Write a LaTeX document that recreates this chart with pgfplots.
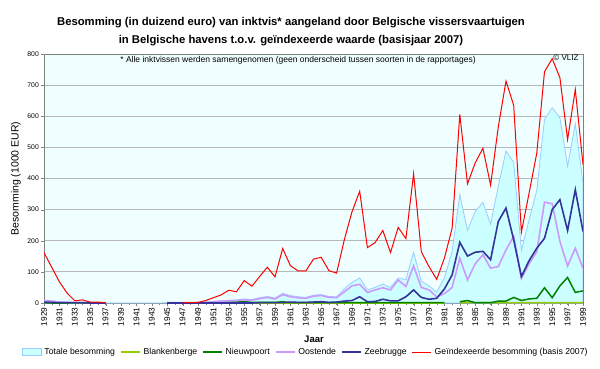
\documentclass[border=0pt]{standalone}
\usepackage{fontspec}
\setmainfont{Liberation Sans}
\usepackage{pgfplots}
\usepackage{pgfplotstable}
\pgfplotsset{compat=1.18}
\definecolor{totfill}{HTML}{CCFFFF}
\definecolor{totedge}{HTML}{99CCFF}
\definecolor{blank}{HTML}{99CC00}
\definecolor{nieuw}{HTML}{008000}
\definecolor{oost}{HTML}{CC99FF}
\definecolor{zee}{HTML}{333399}
\definecolor{red1}{HTML}{FF0000}
\definecolor{bgc}{HTML}{EFFEFE}
\definecolor{gridc}{HTML}{B8B8B8}
\definecolor{axc}{HTML}{808080}

\pgfplotstableread{
year total blank nieuw oost zee red
1929 9 nan 1 8 3 162
1930 7 nan 0 6 2 115
1931 4 nan 0 3 1 68
1932 3 nan 0 2 1 32
1933 2 nan 0 1 1 7
1934 2 nan 0 1 1 10
1935 1 nan 0 1 0 3
1936 1 nan 0 0 0 3
1937 0 nan 0 0 0 1
1938 0 nan nan nan nan nan
1939 0 nan nan nan nan nan
1940 0 nan nan nan nan nan
1941 0 nan nan nan nan nan
1942 0 nan nan nan nan nan
1943 0 nan nan nan nan nan
1944 0 nan nan nan nan nan
1945 1 nan nan 1 0 nan
1946 1 nan nan 1 0 nan
1947 1 nan nan 1 0 1
1948 1 nan nan 1 0 1
1949 1 nan nan 1 0 2
1950 3 0 0 2 0 8
1951 5 0 1 4 0 17
1952 7 0 1 6 0 26
1953 9 0 3 7 0 41
1954 10 0 3 8 0 36
1955 13 0 4 10 0 72
1956 11 0 2 9 0 54
1957 17 0 2 14 1 85
1958 21 0 2 18 1 115
1959 16 0 2 13 1 84
1960 31 0 4 27 1 175
1961 24 0 1 20 3 120
1962 20 0 1 17 2 103
1963 18 0 1 15 2 103
1964 25 0 1 22 3 141
1965 27 0 1 24 4 147
1966 21 0 1 18 2 104
1967 20 0 1 17 3 96
1968 45 0 1 36 6 203
1969 66 0 1 55 8 293
1970 80 0 1 60 20 359
1971 42 0 1 34 4 178
1972 50 0 1 42 5 194
1973 60 0 1 49 12 233
1974 50 0 1 42 7 162
1975 80 0 1 74 7 243
1976 75 0 1 53 20 207
1977 163 0 1 119 42 415
1978 70 0 1 50 18 165
1979 55 0 1 42 12 117
1980 35 0 1 20 15 76
1981 80 0 1 30 45 144
1982 165 nan nan 50 90 240
1983 348 1 4 144 195 606
1984 233 2 8 74 151 383
1985 294 1 1 126 163 450
1986 323 1 1 155 166 497
1987 253 1 1 112 139 379
1988 375 1 6 117 262 566
1989 488 1 6 171 305 713
1990 452 1 18 214 203 635
1991 169 1 8 79 85 228
1992 267 1 13 126 136 353
1993 362 1 15 165 176 482
1994 590 1 49 324 208 743
1995 627 1 17 319 300 785
1996 595 1 55 198 332 724
1997 439 1 82 119 233 525
1998 576 1 34 176 364 686
1999 386 1 39 112 230 445
}\data

\begin{document}
\begin{tikzpicture}
\begin{axis}[
  at={(44pt,65pt)}, anchor=south west,
  scale only axis, width=539pt, height=249pt,
  xmin=1929, xmax=1999, ymin=0, ymax=800,
  axis background/.style={fill=bgc},
  axis line style={axc},
  tick pos=left, tick align=outside,
  major tick length=3pt, minor tick length=2pt,
  tick style={axc},
  xtick={1929,1931,...,1999},
  minor xtick={1929,...,1999},
  ytick={0,100,...,800},
  ymajorgrids, grid style={gridc, line width=0.9pt},
  /pgf/number format/assume math mode=true,
  /pgf/number format/1000 sep={},
  xticklabel style={rotate=90, anchor=east, font=\fontsize{8.3}{9}\selectfont, inner sep=1.5pt},
  yticklabel style={font=\fontsize{6.8}{7}\selectfont, inner sep=2pt},
  unbounded coords=jump,
  legend style={at={(0.4855,-0.197)}, anchor=center, draw=none, fill=none,
    font=\fontsize{8.7}{10}\selectfont, inner sep=0pt,
    /tikz/every odd column/.append style={column sep=1pt},
    /tikz/every even column/.append style={column sep=3pt}},
  legend columns=-1,
  legend cell align=left,
  legend image code/.code={\draw[#1] (0pt,0pt) -- (19pt,0pt);},
]
\addplot[draw=totedge, fill=totfill, line width=0.8pt,
  legend image code/.code={\draw[draw=totedge, fill=totfill, line width=0.6pt] (0pt,-3.3pt) rectangle (19pt,3.3pt);}]
  table[x=year, y=total] {\data} \closedcycle;
\addlegendentry{Totale besomming}
\addplot[blank, line width=1.5pt] table[x=year, y=blank] {\data};
\addlegendentry{Blankenberge}
\addplot[nieuw, line width=1.5pt] table[x=year, y=nieuw] {\data};
\addlegendentry{Nieuwpoort}
\addplot[oost, line width=1.6pt] table[x=year, y=oost] {\data};
\addlegendentry{Oostende}
\addplot[zee, line width=1.6pt] table[x=year, y=zee] {\data};
\addlegendentry{Zeebrugge}
\addplot[red1, line width=1pt] table[x=year, y=red] {\data};
\addlegendentry{Geïndexeerde besomming (basis 2007)}
\end{axis}
\node[font=\bfseries\fontsize{11.3}{13}\selectfont] at (291pt,345pt) {Besomming (in duizend euro) van inktvis* aangeland door Belgische vissersvaartuigen};
\node[font=\bfseries\fontsize{11.3}{13}\selectfont] at (291pt,327pt) {in Belgische havens t.o.v. geïndexeerde waarde (basisjaar 2007)};
\node[font=\fontsize{8.5}{9}\selectfont] at (298pt,308pt) {* Alle inktvissen werden samengenomen (geen onderscheid tussen soorten in de rapportages)};
\node[font=\fontsize{8}{9}\selectfont, anchor=east] at (582pt,310pt) {© VLIZ};
\node[font=\fontsize{10.5}{12}\selectfont, rotate=90] at (16pt,189.5pt) {Besomming (1000 EUR)};
\node[font=\bfseries\fontsize{9.5}{11}\selectfont] at (314pt,29pt) {Jaar};
\pgfresetboundingbox
\path[use as bounding box] (0,0) rectangle (600pt,368pt);
\end{tikzpicture}
\end{document}
